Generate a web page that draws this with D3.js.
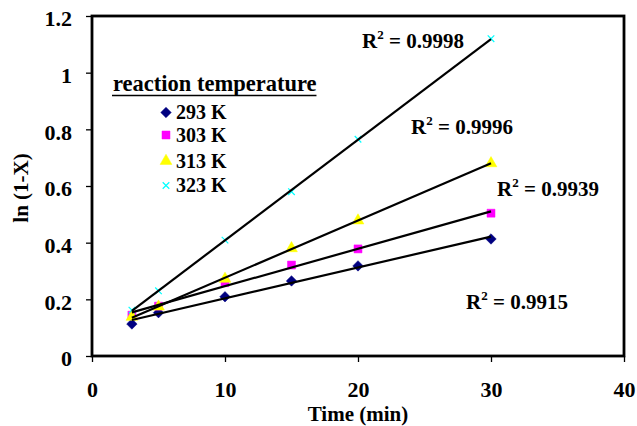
<!DOCTYPE html>
<html>
<head>
<meta charset="utf-8">
<script src="https://cdn.jsdelivr.net/npm/d3@7"></script>
<style>
body { margin: 0; background: #fff; }
svg text { font-family: "Liberation Serif", "DejaVu Serif", serif !important; font-weight: bold; }
</style>
</head>
<body>
<div id="chart"></div>
<script>
const w = 637, h = 426;

// data
const times = [3, 5, 10, 15, 20, 30];
const k293 = [0.113, 0.153, 0.209, 0.265, 0.318, 0.413];
const k303 = [0.144, 0.176, 0.259, 0.321, 0.378, 0.504];
const k313 = [0.138, 0.174, 0.272, 0.380, 0.478, 0.680];
const k323 = [0.162, 0.230, 0.409, 0.580, 0.765, 1.120];
const seriesNames = ["293 K", "303 K", "313 K", "323 K"];
const r2Labels = ["0.9915", "0.9939", "0.9996", "0.9998"];
const xTicks = [0, 10, 20, 30, 40];
const yTicks = [0, 0.2, 0.4, 0.6, 0.8, 1, 1.2];

// square diamond (d3's own is too tall)
const diamond = { draw: (ctx, size) => { const r = Math.sqrt(size / 2); ctx.moveTo(0, -r); ctx.lineTo(r, 0); ctx.lineTo(0, r); ctx.lineTo(-r, 0); ctx.closePath(); } };

const series = [
    { name: seriesNames[0], values: k293, color: "#000080", shape: diamond, size: 55, r2: r2Labels[0], lx: 466, ly: 309 },
    { name: seriesNames[1], values: k303, color: "#ff00ff", shape: d3.symbolSquare, size: 64, r2: r2Labels[1], lx: 497, ly: 196 },
    { name: seriesNames[2], values: k313, color: "#ffff00", shape: d3.symbolTriangle, size: 60, r2: r2Labels[2], lx: 411, ly: 134 },
    { name: seriesNames[3], values: k323, color: "#00ffff", shape: d3.symbolX, size: 30, r2: r2Labels[3], lx: 362, ly: 48 }
];

const margin = { left: 92, right: 13, top: 16, bottom: 70 };

const svg = d3.select("#chart")
    .append("svg")
    .attr("width", w)
    .attr("height", h);

const x = d3.scaleLinear().domain([0, 40]).range([margin.left, w - margin.right]);
const y = d3.scaleLinear().domain([0, 1.2]).range([h - margin.bottom, margin.top]);

// axes
const xAxis = svg.append("g")
    .attr("transform", "translate(0," + y(0) + ")")
    .call(d3.axisBottom(x).tickValues(xTicks).tickSize(6).tickPadding(19).tickFormat(d3.format("d")));
const yAxis = svg.append("g")
    .attr("transform", "translate(" + x(0) + ",0)")
    .call(d3.axisLeft(y).tickValues(yTicks).tickSize(6).tickPadding(14).tickFormat(d => d3.format("")(+d.toFixed(1))));

[xAxis, yAxis].forEach(a => {
    a.attr("font-family", null).attr("font-size", null);
    a.select(".domain").remove();
    a.selectAll("line").attr("stroke", "#000").attr("stroke-width", 1.3);
    a.selectAll("text").style("font-size", "22px").attr("fill", "#000");
});
yAxis.selectAll("text").attr("dy", "0.45em");

// frame
svg.append("rect")
    .attr("x", x(0))
    .attr("y", y(1.2))
    .attr("width", x(40) - x(0))
    .attr("height", y(0) - y(1.2))
    .attr("fill", "none")
    .attr("stroke", "#000")
    .attr("stroke-width", 2.8);

// least squares trend line for each series
function fit(vals) {
    const mx = d3.mean(times), my = d3.mean(vals);
    let sxy = 0, sxx = 0;
    times.forEach((t, i) => { sxy += (t - mx) * (vals[i] - my); sxx += (t - mx) * (t - mx); });
    const b = sxy / sxx;
    return { b: b, a: my - b * mx };
}

const line = d3.line().x(d => x(d[0])).y(d => y(d[1]));

series.forEach(s => {
    svg.append("g")
        .selectAll(".pt")
        .data(times.map((t, i) => [t, s.values[i]]))
        .enter().append("path")
        .attr("transform", d => "translate(" + x(d[0]) + "," + y(d[1]) + ")")
        .attr("d", d3.symbol().type(s.shape).size(s.size))
        .attr("fill", s.shape === d3.symbolX ? "none" : s.color)
        .attr("stroke", s.color)
        .attr("stroke-width", s.shape === d3.symbolX ? 1.2 : 0.5);
});

series.forEach(s => {
    const f = fit(s.values);
    const t0 = d3.min(times), t1 = d3.max(times);
    svg.append("path")
        .attr("d", line([[t0, f.a + f.b * t0], [t1, f.a + f.b * t1]]))
        .attr("stroke", "#000")
        .attr("stroke-width", 2.2)
        .attr("fill", "none");

    const lab = svg.append("text")
        .attr("x", s.lx)
        .attr("y", s.ly)
        .style("font-size", "21px");
    lab.append("tspan").text("R");
    lab.append("tspan").attr("dy", -9).style("font-size", "13px").text("2");
    lab.append("tspan").attr("dy", 9).text(" = " + s.r2);
});

// legend
const legend = svg.append("g");
const title = legend.append("text")
    .attr("x", 113)
    .attr("y", 91)
    .style("font-size", "22.5px")
    .text("reaction temperature");
const tw = title.node().getComputedTextLength();
legend.append("line")
    .attr("x1", 112).attr("x2", 113 + tw)
    .attr("y1", 95.5).attr("y2", 95.5)
    .attr("stroke", "#000").attr("stroke-width", 1.6);

const rows = legend.selectAll(".item")
    .data(series)
    .enter().append("g")
    .attr("class", "item")
    .attr("transform", (d, i) => "translate(166," + [112.5, 135, 161, 185.5][i] + ")");
rows.append("path")
    .attr("d", d => d3.symbol().type(d.shape).size(d.size)())
    .attr("fill", d => d.shape === d3.symbolX ? "none" : d.color)
    .attr("stroke", d => d.color)
    .attr("stroke-width", d => d.shape === d3.symbolX ? 1.2 : 0.5);
rows.append("text")
    .attr("x", 10)
    .attr("y", 6.5)
    .style("font-size", "20px")
    .text(d => d.name);

// axis titles
svg.append("text")
    .attr("x", (x(0) + x(40)) / 2)
    .attr("y", 421)
    .attr("text-anchor", "middle")
    .style("font-size", "21px")
    .text("Time (min)");
svg.append("text")
    .attr("transform", "translate(28,188) rotate(-90)")
    .attr("text-anchor", "middle")
    .style("font-size", "21px")
    .text("ln (1-X)");
</script>
</body>
</html>
